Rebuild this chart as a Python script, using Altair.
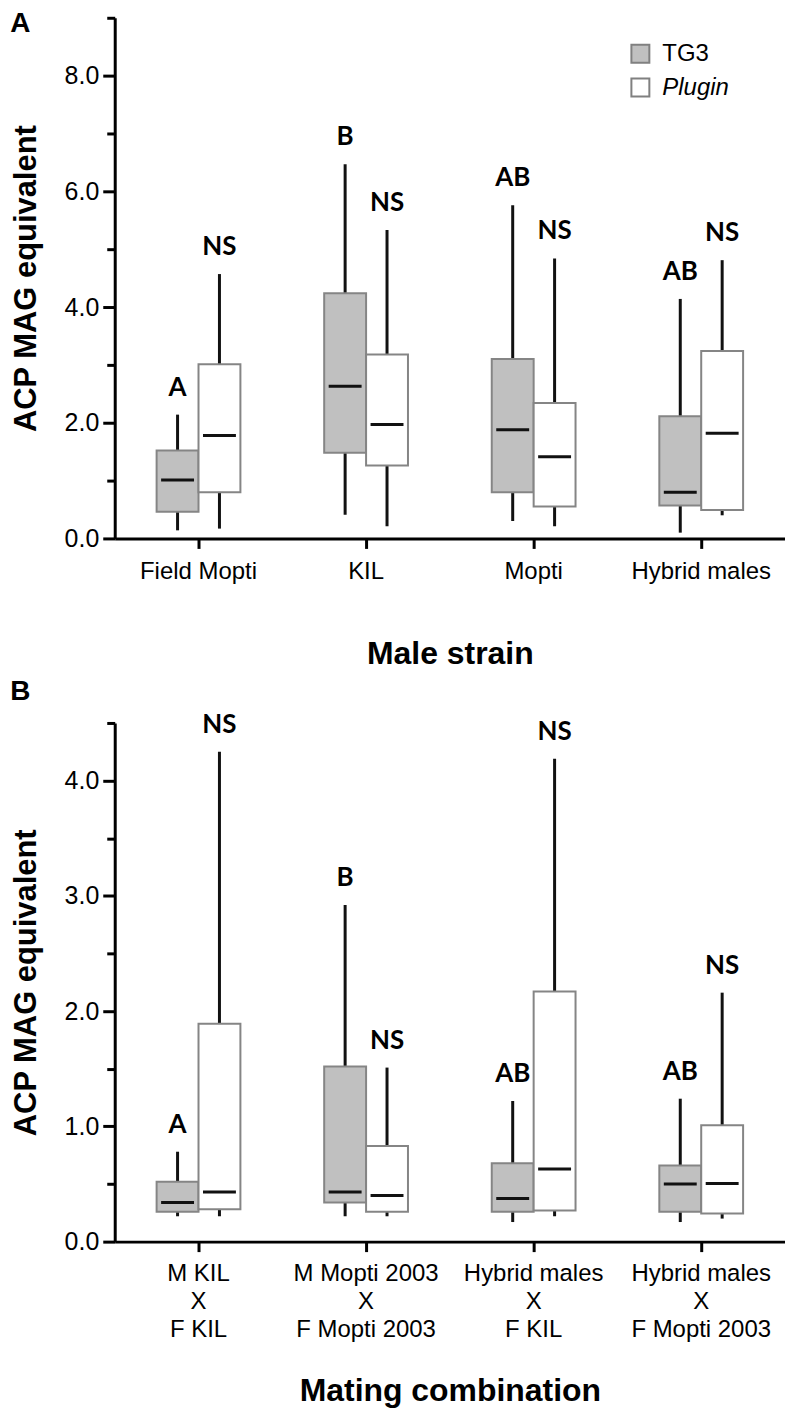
import altair as alt
import pandas as pd

groups = ["TG3", "Plugin"]
fill_colors = ["#c0c0c0", "#ffffff"]

# ---------- Panel A ----------
a_categories = ["Field Mopti", "KIL", "Mopti", "Hybrid males"]
a_tg3_low = [0.14, 0.41, 0.30, 0.10]
a_tg3_q1 = [0.46, 1.48, 0.80, 0.57]
a_tg3_med = [1.01, 2.63, 1.88, 0.80]
a_tg3_q3 = [1.52, 4.24, 3.10, 2.11]
a_tg3_high = [2.14, 6.47, 5.76, 4.14]
a_tg3_letters = ["A", "B", "AB", "AB"]

a_plug_low = [0.17, 0.21, 0.21, 0.40]
a_plug_q1 = [0.80, 1.26, 0.55, 0.49]
a_plug_med = [1.78, 1.97, 1.41, 1.82]
a_plug_q3 = [3.01, 3.18, 2.34, 3.24]
a_plug_high = [4.57, 5.33, 4.84, 4.81]
a_plug_letters = ["NS", "NS", "NS", "NS"]

a_ticks = [0, 1, 2, 3, 4, 5, 6, 7, 8, 9]

# ---------- Panel B ----------
b_categories = ["M KIL\nX\nF KIL", "M Mopti 2003\nX\nF Mopti 2003",
                "Hybrid males\nX\nF KIL", "Hybrid males\nX\nF Mopti 2003"]
b_tg3_low = [0.22, 0.22, 0.17, 0.17]
b_tg3_q1 = [0.26, 0.34, 0.26, 0.26]
b_tg3_med = [0.34, 0.43, 0.375, 0.50]
b_tg3_q3 = [0.52, 1.52, 0.68, 0.66]
b_tg3_high = [0.78, 2.92, 1.22, 1.24]
b_tg3_letters = ["A", "B", "AB", "AB"]

b_plug_low = [0.22, 0.22, 0.22, 0.20]
b_plug_q1 = [0.28, 0.26, 0.27, 0.245]
b_plug_med = [0.43, 0.40, 0.63, 0.505]
b_plug_q3 = [1.89, 0.83, 2.17, 1.01]
b_plug_high = [4.25, 1.51, 4.19, 2.16]
b_plug_letters = ["NS", "NS", "NS", "NS"]

b_ticks = [0, 0.5, 1, 1.5, 2, 2.5, 3, 3.5, 4, 4.5]

AXIS_FONT = "Liberation Sans"
ANNOT_FONT = "Lato"


def make_df(cats, tg3, plug):
    rows = []
    for g, stats in zip(groups, [tg3, plug]):
        lo, q1, med, q3, hi, let = stats
        for i, c in enumerate(cats):
            rows.append(dict(cat=c, group=g, lo=lo[i], q1=q1[i], med=med[i],
                             q3=q3[i], hi=hi[i], letter=let[i]))
    return pd.DataFrame(rows)


def panel(df, cats, ticks, ymax, major_test, xtitle, letter, height,
          legend, multiline, x_title_pad, x_label_pad, title_offset):
    x_axis = alt.Axis(
        labelFont=AXIS_FONT, labelFontSize=24, labelAngle=0,
        labelPadding=x_label_pad, labelLineHeight=28,
        labelExpr="split(datum.label, '\\n')" if multiline else "datum.label",
        tickSize=10, tickWidth=3, domainWidth=3,
        titleFont=AXIS_FONT, titleFontSize=32, titleFontWeight="bold",
        titlePadding=x_title_pad,
    )
    y_axis = alt.Axis(
        values=ticks,
        labelExpr=f"({major_test}) ? format(datum.value, '.1f') : ''",
        tickSize={"expr": f"({major_test}) ? 12 : 8"},
        labelFont=AXIS_FONT, labelFontSize=25, labelPadding=4,
        tickWidth=3, domainWidth=3,
        titleFont=AXIS_FONT, titleFontSize=31, titleFontWeight="bold",
        titlePadding=22,
    )
    yscale = alt.Scale(domain=[0, ymax], nice=False, zero=True)
    ytitle = "ACP MAG equivalent"

    base = alt.Chart(df).encode(
        x=alt.X("cat:N", sort=cats, title=xtitle,
                scale=alt.Scale(paddingInner=0, paddingOuter=0), axis=x_axis),
        xOffset=alt.XOffset("group:N", sort=groups,
                            scale=alt.Scale(domain=groups, paddingInner=0,
                                            paddingOuter={"expr": "1.47"})),
    )
    whisk = base.mark_rule(color="#111111", strokeWidth=3).encode(
        y=alt.Y("lo:Q", scale=yscale, axis=y_axis, title=ytitle),
        y2="hi:Q",
    )
    box = base.mark_bar(stroke="#858585", strokeWidth=2, opacity=1).encode(
        y=alt.Y("q1:Q", scale=yscale, axis=y_axis, title=ytitle),
        y2="q3:Q",
        fill=alt.Fill("group:N", sort=groups,
                      scale=alt.Scale(domain=groups, range=fill_colors),
                      legend=legend),
    )
    med = base.mark_tick(color="#111111", thickness=3, size=33,
                         opacity=1).encode(
        y=alt.Y("med:Q", scale=yscale, axis=y_axis, title=ytitle),
    )
    txt = base.mark_text(font=ANNOT_FONT, fontWeight="bold", fontSize=26,
                         dy=-27, baseline="middle", color="black").encode(
        y=alt.Y("hi:Q", scale=yscale, axis=y_axis, title=ytitle),
        text="letter:N",
    )
    return alt.layer(whisk, box, med, txt).properties(
        width=672, height=height,
        title=alt.TitleParams(text=letter, anchor="start", frame="bounds",
                              font=AXIS_FONT, fontSize=28, fontWeight="bold",
                              baseline="top", offset=title_offset,
                              color="black"),
    )


legend_a = alt.Legend(
    title=None, orient="none", legendX=515, legendY=24,
    symbolType="square", symbolSize=324, symbolStrokeColor="#808080",
    symbolStrokeWidth=2, symbolOpacity=1,
    labelFont=AXIS_FONT, labelFontSize=24, labelColor="black",
    labelFontStyle={"expr": "datum.label == 'Plugin' ? 'italic' : 'normal'"},
    rowPadding=8, labelOffset=10, padding=0,
)

df_a = make_df(a_categories,
               [a_tg3_low, a_tg3_q1, a_tg3_med, a_tg3_q3, a_tg3_high, a_tg3_letters],
               [a_plug_low, a_plug_q1, a_plug_med, a_plug_q3, a_plug_high, a_plug_letters])
df_b = make_df(b_categories,
               [b_tg3_low, b_tg3_q1, b_tg3_med, b_tg3_q3, b_tg3_high, b_tg3_letters],
               [b_plug_low, b_plug_q1, b_plug_med, b_plug_q3, b_plug_high, b_plug_letters])

pa = panel(df_a, a_categories, a_ticks, 9, "datum.value % 2 == 0", "Male strain",
           "A", 522, legend_a, False, 55, 11, -22)
pb = panel(df_b, b_categories, b_ticks, 4.5, "datum.value % 1 == 0",
           "Mating combination", "B", 520, None, True, 34, 10, 6)

chart = alt.vconcat(pa, pb, spacing=8).resolve_scale(
    x="independent", y="independent", fill="independent", xOffset="independent"
).resolve_legend(fill="independent").properties(
    padding={"left": 2, "top": 0, "right": 0, "bottom": 0}
).configure_view(stroke=None).configure_axis(
    grid=False, domainColor="black", tickColor="black",
    labelColor="black", titleColor="black",
)

chart.save("out.html", embed_options={"renderer": "svg", "actions": False})
